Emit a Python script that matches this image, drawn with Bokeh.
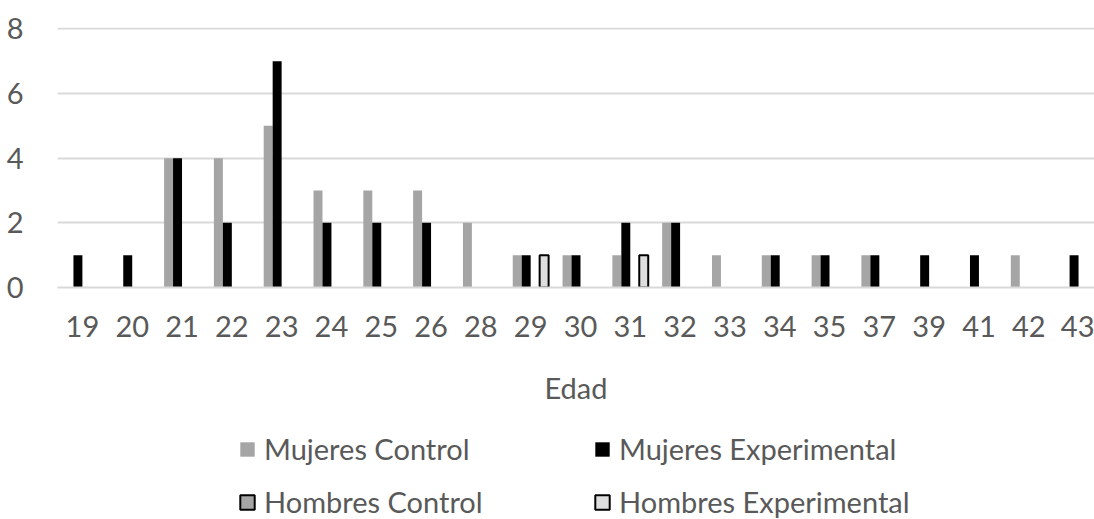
from bokeh.plotting import figure
from bokeh.models import Range1d, FixedTicker, Legend, LegendItem, ColumnDataSource
from bokeh.layouts import column
from bokeh.embed import file_html
from bokeh.resources import INLINE

ages = ["19", "20", "21", "22", "23", "24", "25", "26", "28", "29", "30",
        "31", "32", "33", "34", "35", "37", "39", "41", "42", "43"]
mujeres_control = [0, 0, 4, 4, 5, 3, 3, 3, 2, 1, 1, 1, 2, 1, 1, 1, 1, 0, 0, 1, 0]
mujeres_experimental = [1, 1, 4, 2, 7, 2, 2, 2, 0, 1, 1, 2, 2, 0, 1, 1, 1, 1, 1, 0, 1]
hombres_control = [0] * 21
hombres_experimental = [0, 0, 0, 0, 0, 0, 0, 0, 0, 1, 0, 1, 0, 0, 0, 0, 0, 0, 0, 0, 0]
y_ticks = [0, 2, 4, 6, 8]

FONT = "Lato"
TXT = "#595959"
GRID = "#d9d9d9"

CHART_H = 416
LEGEND_H = 519 - CHART_H

p = figure(width=1094, height=CHART_H, output_backend="svg", toolbar_location=None,
           x_range=Range1d(-0.5, 20.32), y_range=Range1d(0, 8.04),
           min_border_left=57, min_border_right=0, min_border_top=27,
           min_border_bottom=CHART_H - 287)
p.outline_line_color = None
p.background_fill_color = "white"

series = [
    ("Mujeres Control", mujeres_control, -0.27, "#a5a5a5", None, 0),
    ("Mujeres Experimental", mujeres_experimental, -0.09, "#000000", None, 0),
    ("Hombres Control", hombres_control, 0.09, "#a5a5a5", "#000000", 2),
    ("Hombres Experimental", hombres_experimental, 0.27, "#dedede", "#000000", 2),
]
for name, vals, off, fill, line, lw in series:
    xs = [i + off for i, v in enumerate(vals) if v > 0]
    ys = [v for v in vals if v > 0]
    src = ColumnDataSource(dict(x=xs, top=ys))
    p.vbar(x="x", top="top", bottom=0, width=0.18, source=src,
           fill_color=fill, line_color=line, line_width=lw if lw else 1)

# axes
p.xaxis.ticker = FixedTicker(ticks=list(range(len(ages))))
p.xaxis.major_label_overrides = {i: a for i, a in enumerate(ages)}
p.xaxis.major_tick_line_color = None
p.xaxis.minor_tick_line_color = None
p.xaxis.axis_line_color = GRID
p.xaxis.axis_line_width = 2
p.xaxis.major_label_text_font = FONT
p.xaxis.major_label_text_font_size = "29px"
p.xaxis.major_label_text_color = TXT
p.xaxis.major_label_standoff = 22
p.xaxis.axis_label = "Edad"
p.xaxis.axis_label_text_font = FONT
p.xaxis.axis_label_text_font_size = "29px"
p.xaxis.axis_label_text_font_style = "normal"
p.xaxis.axis_label_text_color = TXT
p.xaxis.axis_label_standoff = 30

p.yaxis.ticker = FixedTicker(ticks=y_ticks)
p.yaxis.major_tick_line_color = None
p.yaxis.minor_tick_line_color = None
p.yaxis.axis_line_color = None
p.yaxis.major_label_text_font = FONT
p.yaxis.major_label_text_font_size = "29px"
p.yaxis.major_label_text_color = TXT
p.yaxis.major_label_standoff = 28

p.xgrid.grid_line_color = None
p.ygrid.grid_line_color = GRID
p.ygrid.grid_line_width = 2

# legend strip below the chart (its frame is aligned with the chart frame, left edge at x=57)
lf = figure(width=1094, height=LEGEND_H, output_backend="svg", toolbar_location=None,
            x_range=Range1d(0, 1), y_range=Range1d(0, 1),
            min_border_left=57, min_border_right=0, min_border_top=0, min_border_bottom=0)
lf.axis.visible = False
lf.grid.visible = False
lf.outline_line_color = None
lr = {}
for name, vals, off, fill, line, lw in series:
    # tiny swatch-source bar hidden underneath the opaque legend box
    lr[name] = lf.vbar(x=[0.3], top=[0.45], bottom=[0.4], width=0.004, fill_color=fill,
                       line_color=line, line_width=lw if lw else 1)


def make_legend(names, x):
    lg = Legend(items=[LegendItem(label=n, renderers=[lr[n]], index=0) for n in names],
                location=(x, 0), orientation="vertical",
                glyph_width=18, glyph_height=18, label_height=30, label_standoff=8,
                spacing=18, padding=0, margin=0,
                label_text_font=FONT, label_text_font_size="29px", label_text_color=TXT,
                border_line_alpha=0, background_fill_color="white", background_fill_alpha=1)
    lf.add_layout(lg)


make_legend(["Mujeres Control", "Hombres Control"], 238 - 57)
make_legend(["Mujeres Experimental", "Hombres Experimental"], 593 - 57)

layout = column(p, lf, spacing=0)
open("out.html", "w").write(file_html(layout, INLINE))
